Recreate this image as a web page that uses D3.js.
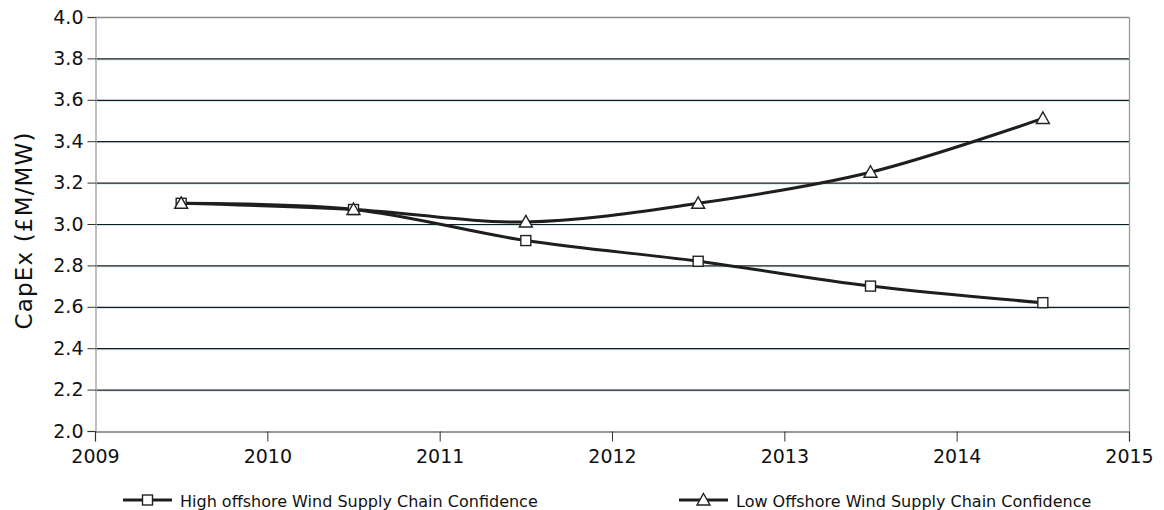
<!DOCTYPE html>
<html>
<head>
<meta charset="utf-8">
<script src="https://cdn.jsdelivr.net/npm/d3@7"></script>
<style>
  html, body { margin: 0; padding: 0; background: #fff; }
  svg { display: block; }
  text { font-family: "DejaVu Sans", "Liberation Sans", sans-serif; fill: #111; }
</style>
</head>
<body>
<svg id="chart" width="1164" height="510"></svg>
<script>
// Forecast years (mid-year points)
const years = [2009.5, 2010.5, 2011.5, 2012.5, 2013.5, 2014.5];
// CapEx, £M per MW
const highConfidence = [3.10, 3.07, 2.92, 2.82, 2.70, 2.62];
const lowConfidence  = [3.10, 3.07, 3.01, 3.10, 3.25, 3.51];
const seriesNames = ["High offshore Wind Supply Chain Confidence", "Low Offshore Wind Supply Chain Confidence"];
const xTicks = [2009, 2010, 2011, 2012, 2013, 2014, 2015];
const yTicks = [2.0, 2.2, 2.4, 2.6, 2.8, 3.0, 3.2, 3.4, 3.6, 3.8, 4.0];

const svg = d3.select("#chart");
const plot = { left: 95, right: 1129, top: 17, bottom: 431 };

const x = d3.scaleLinear().domain([2009, 2015]).range([plot.left, plot.right]);
const y = d3.scaleLinear().domain([2.0, 4.0]).range([plot.bottom, plot.top]);

// horizontal gridlines: dark rule with a faint cyan edge beneath
const grid = svg.append("g");
yTicks.filter(v => v > 2.0 && v < 4.0).forEach(v => {
  grid.append("line").attr("x1", plot.left).attr("x2", plot.right)
    .attr("y1", y(v) + 1.5).attr("y2", y(v) + 1.5)
    .attr("stroke", "#bfe6ee").attr("stroke-width", 1);
  grid.append("line").attr("x1", plot.left).attr("x2", plot.right)
    .attr("y1", y(v) + 0.5).attr("y2", y(v) + 0.5)
    .attr("stroke", "#1a1a1a").attr("stroke-width", 1.2);
});

// plot frame
svg.append("line").attr("x1", plot.left).attr("x2", plot.right).attr("y1", plot.top + 0.5).attr("y2", plot.top + 0.5)
  .attr("stroke", "#8a8a8a").attr("stroke-width", 1.3);
svg.append("line").attr("x1", plot.right + 0.5).attr("x2", plot.right + 0.5).attr("y1", plot.top).attr("y2", plot.bottom)
  .attr("stroke", "#9a9a9a").attr("stroke-width", 1.3);

// y axis
const yAxis = svg.append("g").attr("transform", `translate(${plot.left + 0.5},0)`)
  .call(d3.axisLeft(y).tickValues(yTicks).tickFormat(d3.format(".1f")).tickSize(8).tickPadding(4));
yAxis.select(".domain").attr("stroke", "#aaa").attr("stroke-width", 1.5);
yAxis.selectAll(".tick line").attr("stroke", "#333");
yAxis.selectAll(".tick text").attr("font-size", 19).attr("font-family", "DejaVu Sans, sans-serif").attr("fill", "#111");

// x axis
const xAxis = svg.append("g").attr("transform", `translate(0,${plot.bottom + 0.5})`)
  .call(d3.axisBottom(x).tickValues(xTicks).tickFormat(d3.format("d")).tickSize(10).tickPadding(8));
xAxis.select(".domain").attr("stroke", "#777").attr("stroke-width", 1.3);
xAxis.selectAll(".tick line").attr("stroke", "#333");
xAxis.selectAll(".tick text").attr("font-size", 19).attr("font-family", "DejaVu Sans, sans-serif").attr("fill", "#111");

// y axis title
svg.append("text")
  .attr("transform", `translate(32,231) rotate(-90)`)
  .attr("text-anchor", "middle")
  .attr("font-size", 23)
  .attr("fill", "#222")
  .attr("textLength", 197)
  .attr("lengthAdjust", "spacing")
  .text("CapEx (£M/MW)");

// series lines
const line = d3.line().x(d => x(d[0])).y(d => y(d[1])).curve(d3.curveCatmullRom.alpha(0.5));
const series = [highConfidence, lowConfidence];
series.forEach(vals => {
  svg.append("path")
    .datum(years.map((yr, i) => [yr, vals[i]]))
    .attr("d", line)
    .attr("fill", "none")
    .attr("stroke", "#1e1e1e")
    .attr("stroke-width", 3);
});

// markers
function square(g, cx, cy) {
  g.append("rect").attr("x", cx - 5).attr("y", cy - 5).attr("width", 10).attr("height", 10)
    .attr("fill", "#fff").attr("stroke", "#222").attr("stroke-width", 1.4);
}
function triangle(g, cx, cy) {
  g.append("path").attr("d", `M${cx},${cy - 6.5}L${cx + 6.5},${cy + 5}L${cx - 6.5},${cy + 5}Z`)
    .attr("fill", "#fff").attr("stroke", "#222").attr("stroke-width", 1.4);
}
const markers = svg.append("g");
years.forEach((yr, i) => square(markers, x(yr), y(highConfidence[i])));
years.forEach((yr, i) => triangle(markers, x(yr), y(lowConfidence[i])));

// legend
const legendItems = [
  { name: seriesNames[0], x0: 123, draw: square },
  { name: seriesNames[1], x0: 679, draw: triangle }
];
legendItems.forEach(item => {
  const g = svg.append("g");
  g.append("line").attr("x1", item.x0).attr("x2", item.x0 + 49).attr("y1", 500).attr("y2", 500)
    .attr("stroke", "#1e1e1e").attr("stroke-width", 3);
  item.draw(g, item.x0 + 24.5, 500);
  g.append("text").attr("x", item.x0 + 57).attr("y", 502).attr("dominant-baseline", "middle")
    .attr("font-size", 16).attr("fill", "#222").text(item.name);
});
</script>
</body>
</html>
